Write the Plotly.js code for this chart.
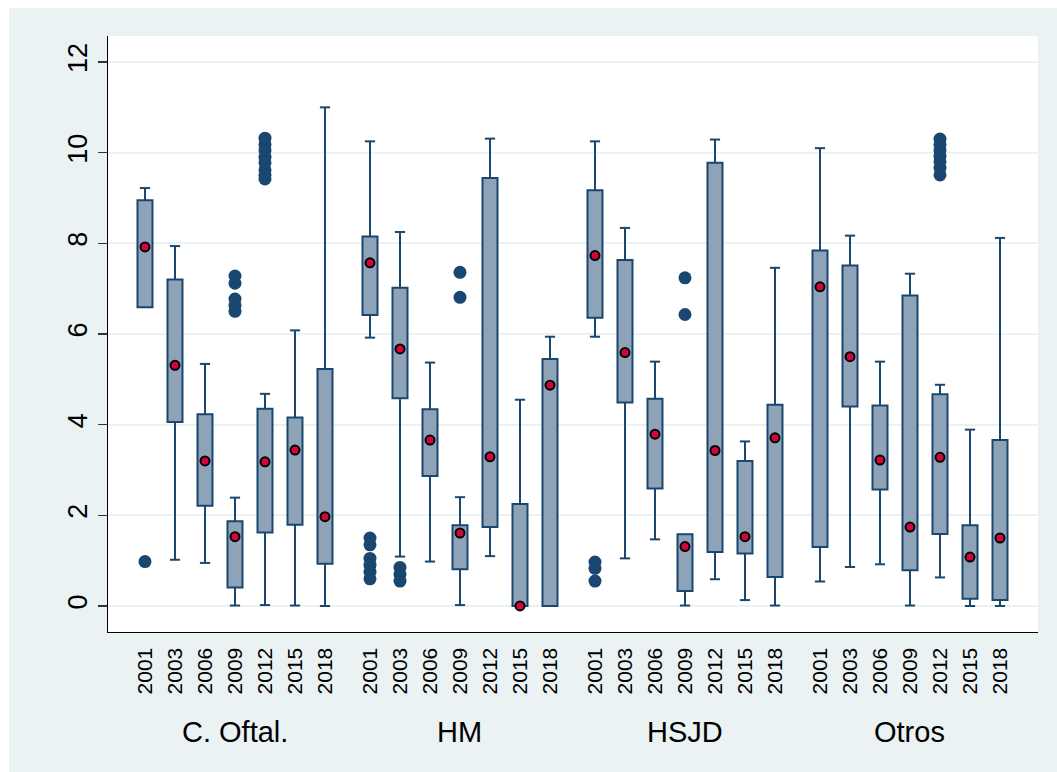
<!DOCTYPE html>
<html>
<head>
<meta charset="utf-8">
<script src="https://cdn.plot.ly/plotly-3.0.1.min.js"></script>
<style>
  html, body { margin: 0; padding: 0; background: #ffffff; }
  #chart { position: absolute; left: 9px; top: 8px; width: 1048px; height: 764px; }
</style>
</head>
<body>
<div id="chart"></div>
<script>
// ---- data ----
const groups = ["C. Oftal.", "HM", "HSJD", "Otros"];
const years = ["2001", "2003", "2006", "2009", "2012", "2015", "2018"];

// one value per box, group-major order (C. Oftal. 2001..2018, HM ..., HSJD ..., Otros ...)
const whiskerLow = [
  6.59, 1.02, 0.95, 0.01, 0.02, 0.01, 0.00,
  5.92, 1.09, 0.98, 0.02, 1.10, 0.00, 0.00,
  5.94, 1.05, 1.47, 0.01, 0.59, 0.13, 0.01,
  0.54, 0.86, 0.92, 0.01, 0.63, 0.00, 0.00
];
const q1 = [
  6.59, 4.06, 2.21, 0.41, 1.62, 1.79, 0.93,
  6.42, 4.58, 2.87, 0.81, 1.74, 0.00, 0.00,
  6.36, 4.49, 2.59, 0.33, 1.19, 1.16, 0.64,
  1.30, 4.40, 2.57, 0.79, 1.59, 0.16, 0.13
];
const median = [
  7.92, 5.31, 3.20, 1.53, 3.18, 3.44, 1.97,
  7.57, 5.67, 3.66, 1.61, 3.29, 0.00, 4.87,
  7.73, 5.59, 3.79, 1.31, 3.43, 1.53, 3.71,
  7.04, 5.50, 3.22, 1.74, 3.28, 1.08, 1.50
];
const q3 = [
  8.95, 7.20, 4.23, 1.87, 4.35, 4.16, 5.23,
  8.15, 7.02, 4.34, 1.78, 9.44, 2.25, 5.45,
  9.17, 7.63, 4.57, 1.58, 9.78, 3.20, 4.44,
  7.84, 7.51, 4.42, 6.85, 4.67, 1.78, 3.66
];
const whiskerHigh = [
  9.22, 7.94, 5.34, 2.39, 4.68, 6.08, 11.00,
  10.25, 8.25, 5.37, 2.40, 10.31, 4.55, 5.94,
  10.25, 8.34, 5.39, 1.58, 10.29, 3.63, 7.46,
  10.10, 8.17, 5.39, 7.33, 4.88, 3.89, 8.12
];
// outside values: box index (0..27) and value
const outlierBox = [
  0,
  3, 3, 3, 3, 3,
  4, 4, 4, 4, 4, 4, 4, 4,
  7, 7, 7, 7, 7, 7,
  8, 8, 8,
  10, 10,
  14, 14, 14,
  17, 17,
  25, 25, 25, 25, 25, 25, 25
];
const outlierVal = [
  0.98,
  7.28, 7.12, 6.77, 6.63, 6.50,
  10.32, 10.18, 10.05, 9.90, 9.78, 9.62, 9.50, 9.42,
  1.50, 1.35, 1.05, 0.90, 0.75, 0.60,
  0.85, 0.70, 0.55,
  7.36, 6.81,
  0.97, 0.83, 0.55,
  7.24, 6.43,
  10.30, 10.18, 10.05, 9.92, 9.80, 9.66, 9.51
];
const yTicks = [0, 2, 4, 6, 8, 10, 12];

// ---- layout helpers ----
const groupGap = 7.5;
const pos = [];
const tickText = [];
groups.forEach((g, gi) => {
  years.forEach((yr, yi) => { pos.push(gi * groupGap + yi); tickText.push(yr); });
});
const groupCenters = groups.map((g, gi) => gi * groupGap + (years.length - 1) / 2);

const navy = '#1a476f';
const capHalf = 0.17;

// whiskers with caps
const wx = [], wy = [];
pos.forEach((x, i) => {
  if (whiskerHigh[i] > q3[i]) {
    wx.push(x, x, null, x - capHalf, x + capHalf, null);
    wy.push(q3[i], whiskerHigh[i], null, whiskerHigh[i], whiskerHigh[i], null);
  }
  if (whiskerLow[i] < q1[i]) {
    wx.push(x, x, null, x - capHalf, x + capHalf, null);
    wy.push(q1[i], whiskerLow[i], null, whiskerLow[i], whiskerLow[i], null);
  }
});

const traces = [
  {
    type: 'bar',
    x: pos,
    base: q1,
    y: q3.map((v, i) => v - q1[i]),
    width: 0.5,
    marker: { color: '#8fa3b8', line: { color: navy, width: 2 } },
    hoverinfo: 'skip',
    showlegend: false
  },
  {
    type: 'scatter', mode: 'lines',
    x: wx, y: wy,
    line: { color: navy, width: 2 },
    hoverinfo: 'skip', showlegend: false
  },
  {
    type: 'scatter', mode: 'markers',
    x: outlierBox.map(i => pos[i]), y: outlierVal,
    marker: { color: navy, size: 13, line: { width: 0 } },
    hoverinfo: 'skip', showlegend: false
  },
  {
    type: 'scatter', mode: 'markers',
    x: pos, y: median,
    marker: { color: '#d0063c', size: 9, line: { color: '#000000', width: 2 } },
    hoverinfo: 'skip', showlegend: false
  }
];

const font = 'Liberation Sans, Arial, Helvetica, sans-serif';

const layout = {
  width: 1048, height: 764,
  paper_bgcolor: '#eaf2f3',
  plot_bgcolor: '#ffffff',
  margin: { l: 99, r: 19, t: 28, b: 140 },
  showlegend: false,
  xaxis: {
    range: [-1.233, 29.767],
    tickvals: pos, ticktext: tickText,
    tickangle: -90,
    tickfont: { family: font, size: 21, color: '#000000' },
    ticks: '', showgrid: false, zeroline: false,
    showline: true, linecolor: '#000000', linewidth: 1.3,
    ticklabelstandoff: 6
  },
  yaxis: {
    range: [-0.574, 12.574],
    tickvals: yTicks,
    ticktext: yTicks.map(String),
    tickangle: -90,
    tickfont: { family: font, size: 27, color: '#000000' },
    ticks: 'outside', ticklen: 9, tickwidth: 1.3, tickcolor: '#333333',
    showgrid: true, gridcolor: '#eaf2f3', gridwidth: 2,
    zeroline: false,
    showline: true, linecolor: '#000000', linewidth: 1.3
  },
  annotations: groups.map((g, gi) => ({
    x: groupCenters[gi], xref: 'x',
    y: -(724 - 624) / 596, yref: 'paper',
    text: g, showarrow: false,
    xanchor: 'center', yanchor: 'middle',
    font: { family: font, size: 29, color: '#000000' }
  }))
};

Plotly.newPlot('chart', traces, layout, { displayModeBar: false, staticPlot: true });
</script>
</body>
</html>
